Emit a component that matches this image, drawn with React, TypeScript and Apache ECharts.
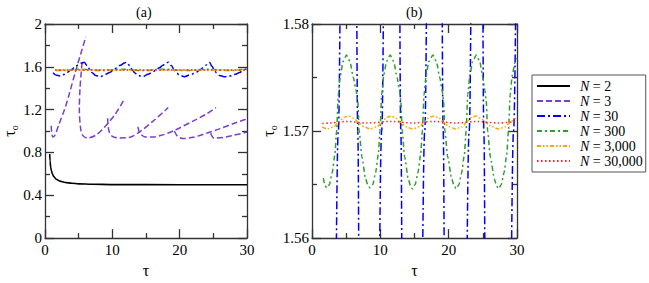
import React, { useEffect, useRef } from "react";
import * as echarts from "echarts";

const FONT = "Liberation Serif";

const legendNames = ["N = 2", "N = 3", "N = 30", "N = 300", "N = 3,000", "N = 30,000"];
const xTicks = [0, 10, 20, 30];

const n2: number[][] = [
  [0.7, 0.785], [0.75, 0.72], [0.85, 0.66], [0.95, 0.63], [1.1, 0.6], [1.3, 0.575], [1.66, 0.55],
  [2.2, 0.532], [3, 0.52], [4, 0.512], [5, 0.507], [7, 0.503], [10, 0.5], [20, 0.499], [30, 0.499],
];

const n3b1: number[][] = [
  [0.93, 1.05], [1.0, 0.98], [1.17, 0.944], [1.5, 0.965], [2, 1.05], [3, 1.22], [3.62, 1.35],
  [4.5, 1.55], [5.3, 1.72], [6.06, 1.88],
];
const n3b2: number[][] = [
  [5.5, 1.64], [5.2, 1.4], [5.1, 1.2], [5.3, 1.02], [5.6, 0.96], [6.3, 0.935], [7.5, 0.96],
  [8.75, 1.03], [10.45, 1.16], [11.7, 1.29],
];
const n3b3: number[][] = [
  [9.3, 1.12], [9.5, 1.0], [10, 0.95], [11, 0.935], [12.5, 0.94], [14, 0.99], [16, 1.09],
  [17.8, 1.19], [18.3, 1.22],
];
const n3b4: number[][] = [
  [13.8, 1.04], [14.1, 0.98], [14.9, 0.945], [16, 0.945], [17.3, 0.96], [19, 1.0], [22.2, 1.1],
  [24, 1.16], [25.4, 1.22],
];
const n3b5: number[][] = [
  [19.2, 1.0], [19.7, 0.95], [20.5, 0.93], [22.2, 0.945], [24, 0.98], [25.9, 1.02], [28, 1.07],
  [29.8, 1.11], [30, 1.115],
];
const n3b6: number[][] = [
  [24.6, 0.98], [25.1, 0.935], [26.5, 0.94], [28, 0.96], [30, 0.99],
];

const n30: number[][] = [
  [1.2, 1.545], [1.7, 1.522], [2.2, 1.515], [2.8, 1.528], [3.3, 1.55], [3.85, 1.57], [4.35, 1.592],
  [4.85, 1.615], [5.4, 1.635], [5.8, 1.642], [6.3, 1.61], [6.7, 1.57], [7.0, 1.545], [7.5, 1.52],
  [8.2, 1.508], [9.0, 1.53], [9.6, 1.548], [10.2, 1.57], [10.7, 1.592], [11.2, 1.615], [11.8, 1.635],
  [12.1, 1.642], [12.6, 1.61], [13.0, 1.57], [13.3, 1.545], [13.8, 1.52], [14.5, 1.508], [15.3, 1.53],
  [15.9, 1.548], [16.5, 1.57], [17.0, 1.592], [17.5, 1.615], [18.0, 1.635], [18.3, 1.642], [18.8, 1.61],
  [19.2, 1.57], [19.5, 1.545], [20.0, 1.52], [20.7, 1.508], [21.6, 1.525], [22.4, 1.548], [23.0, 1.57],
  [23.5, 1.592], [23.9, 1.615], [24.2, 1.633], [24.45, 1.64], [24.8, 1.605], [25.15, 1.57],
  [25.45, 1.545], [25.9, 1.52], [26.6, 1.508], [27.5, 1.515], [28.3, 1.53], [28.9, 1.548],
  [29.5, 1.57], [30, 1.594],
];

const n300: number[][] = [
  [1.66, 1.5656], [1.9, 1.5649], [2.15, 1.5647], [2.55, 1.565], [2.95, 1.5661], [3.35, 1.5678],
  [3.6, 1.57], [3.85, 1.5734], [4.15, 1.5752], [4.55, 1.5765], [5.05, 1.5771], [5.55, 1.5765],
  [6.05, 1.575], [6.45, 1.5738], [6.7, 1.5728], [6.9, 1.57], [7.3, 1.5676], [7.85, 1.5655],
  [8.2, 1.5649], [8.5, 1.5647], [8.9, 1.565], [9.3, 1.5661], [9.7, 1.5678], [9.95, 1.57],
  [10.2, 1.5734], [10.5, 1.5752], [10.9, 1.5765], [11.45, 1.5771], [11.95, 1.5765], [12.45, 1.575],
  [12.8, 1.5738], [13.0, 1.5728], [13.2, 1.57], [13.55, 1.5676], [14.1, 1.5655], [14.4, 1.5649],
  [14.7, 1.5646], [15.1, 1.565], [15.5, 1.5661], [15.9, 1.5678], [16.15, 1.57], [16.4, 1.5734],
  [16.7, 1.5752], [17.1, 1.5765], [17.7, 1.5771], [18.2, 1.5765], [18.7, 1.575], [19.05, 1.5738],
  [19.25, 1.5728], [19.45, 1.57], [19.85, 1.5676], [20.45, 1.5655], [20.8, 1.5649], [21.1, 1.5646],
  [21.5, 1.565], [21.9, 1.5661], [22.3, 1.5678], [22.55, 1.57], [22.8, 1.5734], [23.1, 1.5752],
  [23.5, 1.5765], [24.05, 1.5771], [24.55, 1.5765], [25.0, 1.575], [25.3, 1.5738], [25.5, 1.5728],
  [25.7, 1.57], [26.1, 1.5676], [26.7, 1.5655], [27.0, 1.5649], [27.3, 1.5646], [27.7, 1.565],
  [28.1, 1.5661], [28.5, 1.5678], [28.75, 1.57], [29.0, 1.5734], [29.3, 1.5752], [29.7, 1.5764],
  [30, 1.5768],
];

const n3000: number[][] = [
  [1.5, 1.5704], [2.2, 1.5702], [3.2, 1.5704], [4.0, 1.5709], [4.7, 1.5713], [5.4, 1.5714],
  [6.1, 1.5712], [6.8, 1.5708], [7.6, 1.5704], [8.5, 1.5702], [9.5, 1.5704], [10.3, 1.5709],
  [11.0, 1.5713], [11.6, 1.5714], [12.3, 1.5712], [13.0, 1.5708], [13.8, 1.5704], [14.7, 1.5702],
  [15.7, 1.5704], [16.5, 1.5709], [17.2, 1.5713], [17.9, 1.5714], [18.6, 1.5712], [19.3, 1.5708],
  [20.1, 1.5704], [21.0, 1.5702], [22.0, 1.5704], [22.7, 1.5709], [23.4, 1.5713], [24.0, 1.5714],
  [24.7, 1.5712], [25.4, 1.5708], [26.3, 1.5704], [27.3, 1.5702], [28.3, 1.5704], [29.1, 1.5709],
  [30, 1.5713],
];

const n30000: number[][] = [
  [1.5, 1.5707], [2.5, 1.57075], [5, 1.5709], [8, 1.57075], [11.5, 1.5709], [14.7, 1.57075],
  [17.8, 1.5709], [21, 1.57075], [24, 1.5709], [27.3, 1.57075], [30, 1.5709],
];

const COLORS = {
  n2: "#000000",
  n3: "#7b3fd0",
  n30: "#0000ff",
  n300: "#2e9e2e",
  n3000: "#ffa500",
  n30000: "#ff2020",
};

const AX = "#333";

function xAxisDef(grid: number, top: boolean) {
  return {
    type: "value",
    gridIndex: grid,
    position: top ? "top" : "bottom",
    min: xTicks[0],
    max: xTicks[xTicks.length - 1],
    interval: 10,
    axisLine: { show: true, onZero: false, lineStyle: { color: AX, width: 1.3 } },
    axisTick: { show: true, inside: true, length: 9, lineStyle: { color: AX, width: 1.3 } },
    minorTick: { show: true, splitNumber: 2, length: 5, lineStyle: { color: AX, width: 1.3 } },
    splitLine: { show: false },
    minorSplitLine: { show: false },
    axisLabel: {
      show: !top,
      margin: 4,
      color: "#000",
      fontSize: 15,
      fontFamily: FONT,
    },
    name: top ? "" : "τ",
    nameLocation: "middle",
    nameGap: 20,
    nameTextStyle: { color: "#000", fontSize: 16, fontFamily: FONT },
  };
}

function yAxisDef(grid: number, right: boolean, min: number, max: number, interval: number, fmt: (v: number) => string, gap: number) {
  return {
    type: "value",
    gridIndex: grid,
    position: right ? "right" : "left",
    min,
    max,
    interval,
    axisLine: { show: true, onZero: false, lineStyle: { color: AX, width: 1.3 } },
    axisTick: { show: true, inside: true, length: 9, lineStyle: { color: AX, width: 1.3 } },
    minorTick: { show: true, splitNumber: 2, length: 5, lineStyle: { color: AX, width: 1.3 } },
    splitLine: { show: false },
    minorSplitLine: { show: false },
    axisLabel: {
      show: !right,
      margin: 3,
      color: "#000",
      fontSize: 15,
      fontFamily: FONT,
      formatter: fmt,
    },
    name: right ? "" : "{t|τ}{o|o}",
    nameLocation: "middle",
    nameRotate: 90,
    nameGap: gap,
    nameTextStyle: {
      color: "#000",
      fontFamily: FONT,
      rich: {
        t: { fontSize: 16, fontFamily: FONT, color: "#000", lineHeight: 20, verticalAlign: "middle" },
        o: { fontSize: 10, fontFamily: FONT, color: "#000", lineHeight: 10, verticalAlign: "bottom" },
      },
    },
  };
}

function lineSeries(name: string, data: number[][], color: string, type: any, xi: number, yi: number, smooth: number, mono: boolean, width = 1.5) {
  return {
    type: "line",
    name,
    data,
    xAxisIndex: xi,
    yAxisIndex: yi,
    showSymbol: false,
    symbol: "none",
    smooth,
    smoothMonotone: mono ? "x" : undefined,
    clip: true,
    lineStyle: { color, width, type },
    itemStyle: { color },
  };
}

export default function App() {
  const ref = useRef<HTMLDivElement>(null);
  useEffect(() => {
    if (!ref.current) return;
    const chart = echarts.init(ref.current, undefined, { renderer: "svg" });
    const fmtA = (v: number) => String(Math.round(v * 10) / 10);
    const fmtB = (v: number) => v.toFixed(2);
    const dash3 = [6, 3];
    const dash30 = [8, 3, 2, 3];
    const dash300 = [5, 3, 2, 3];
    const dash3000 = [4, 2, 1.5, 2, 1.5, 2];
    const dot = [1.5, 2.5];
    const series: any[] = [
      lineSeries(legendNames[0], n2, COLORS.n2, "solid", 0, 0, 0.3, true, 1.6),
      lineSeries(legendNames[1], n3b1, COLORS.n3, dash3, 0, 0, 0.3, false),
      lineSeries(legendNames[1], n3b2, COLORS.n3, dash3, 0, 0, 0.3, false),
      lineSeries(legendNames[1], n3b3, COLORS.n3, dash3, 0, 0, 0.3, false),
      lineSeries(legendNames[1], n3b4, COLORS.n3, dash3, 0, 0, 0.3, false),
      lineSeries(legendNames[1], n3b5, COLORS.n3, dash3, 0, 0, 0.3, false),
      lineSeries(legendNames[1], n3b6, COLORS.n3, dash3, 0, 0, 0.3, false),
      lineSeries(legendNames[2], n30, COLORS.n30, dash30, 0, 0, 0.4, true),
      lineSeries(legendNames[3], n300, COLORS.n300, dash300, 0, 0, 0.2, true),
      lineSeries(legendNames[4], n3000, COLORS.n3000, dash3000, 0, 0, 0.3, true),
      lineSeries(legendNames[5], n30000, COLORS.n30000, dot, 0, 0, 0.3, true),
      lineSeries(legendNames[2], n30, COLORS.n30, dash30, 2, 2, 0.4, true),
      lineSeries(legendNames[3], n300, COLORS.n300, dash300, 2, 2, 0.2, true),
      lineSeries(legendNames[4], n3000, COLORS.n3000, dash3000, 2, 2, 0.3, true),
      lineSeries(legendNames[5], n30000, COLORS.n30000, dot, 2, 2, 0.3, true),
    ];
    chart.setOption({
      animation: false,
      backgroundColor: "#fff",
      grid: [
        { left: 42, top: 24, width: 205, height: 229 },
        { left: 312, top: 24, width: 205, height: 229 },
      ],
      xAxis: [xAxisDef(0, false), xAxisDef(0, true), xAxisDef(1, false), xAxisDef(1, true)],
      yAxis: [
        yAxisDef(0, false, 0, 2, 0.4, fmtA, 26),
        yAxisDef(0, true, 0, 2, 0.4, fmtA, 26),
        yAxisDef(1, false, 1.56, 1.58, 0.01, fmtB, 30),
        yAxisDef(1, true, 1.56, 1.58, 0.01, fmtB, 30),
      ],
      legend: {
        show: true,
        data: legendNames,
        orient: "vertical",
        left: 532,
        top: 75,
        padding: [4, 3, 4, 4],
        itemWidth: 33,
        itemHeight: 14,
        itemGap: 1,
        borderColor: "#555",
        borderWidth: 1,
        backgroundColor: "#fff",
        selectedMode: false,
        itemStyle: { opacity: 0, borderWidth: 0 },
        formatter: (name: string) => "{i|N}" + name.slice(1),
        textStyle: {
          color: "#000",
          fontSize: 14,
          fontFamily: FONT,
          lineHeight: 14,
          padding: [0, 0, 0, 5],
          rich: {
            i: { fontStyle: "italic", fontSize: 14, fontFamily: FONT, color: "#000" },
          },
        },
      },
      title: [
        {
          text: "(a)",
          left: 131,
          top: 0,
          textStyle: { fontSize: 14, fontWeight: "normal", fontFamily: FONT, color: "#000" },
        },
        {
          text: "(b)",
          left: 401,
          top: 0,
          textStyle: { fontSize: 14, fontWeight: "normal", fontFamily: FONT, color: "#000" },
        },
      ],
      series,
    });
    return () => chart.dispose();
  }, []);
  return <div ref={ref} style={{ position: "absolute", left: 0, top: 0, width: 649, height: 283 }} />;
}
